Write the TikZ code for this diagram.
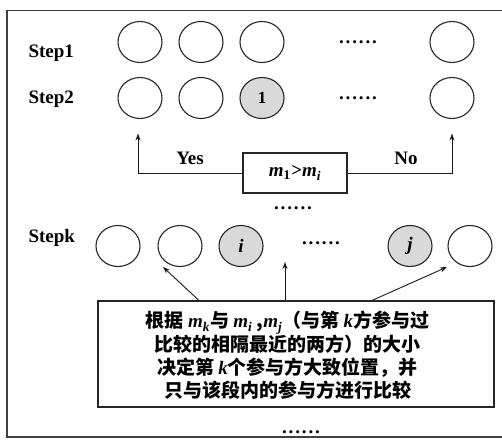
\documentclass[tikz,border=0pt]{standalone}
\usepackage{fontspec}
\setmainfont{Liberation Serif}
\newfontfamily\cjk{Noto Sans CJK SC}
\usetikzlibrary{arrows.meta,shapes.geometric}
\newcommand\sixdots{{\bfseries\fontsize{19}{19}\selectfont .\kern1.9pt.\kern1.9pt.\kern1.9pt.\kern1.9pt.\kern1.9pt.}}
\newcommand\lt[1]{{\rmfamily\bfseries\itshape #1}}
\begin{document}
\begin{tikzpicture}[x=1pt,y=-1pt,
  part/.style={ellipse,draw=black!85,line width=1.1pt,minimum width=44pt,minimum height=41pt,inner sep=0pt},
  hit/.style={part,fill=black!15},
  lbl/.style={font=\bfseries\fontsize{19}{20}\selectfont},
  dotsnode/.style={anchor=base,inner sep=0pt},
  boxnode/.style={draw=black!85,line width=1.1pt,inner sep=0pt},
  arr/.style={-{Stealth[length=7pt,width=5pt]},line width=0.9pt,draw=black!90}
]
\useasboundingbox (0,0) rectangle (502,439);
% frame
\draw[black!75,line width=1.1pt] (503,10.5) -- (7,10.5) -- (7,437) -- (503,437);

% labels
\node[lbl,anchor=west] (s1) at (25,53) {Step1};
\node[lbl,anchor=west] (s2) at (25,99) {Step2};
\node[lbl,anchor=west] (sk) at (25,238) {Stepk};

% row 1
\node[part] (a1) at (140,42) {};
\node[part] (a2) at (201,42) {};
\node[part] (a3) at (262,42) {};
\node[dotsnode] (ad) at (358,43.5) {\sixdots};
\node[part] (a5) at (452,42) {};

% row 2
\node[part] (b1) at (140,98) {};
\node[part] (b2) at (201,98) {};
\node[hit] (b3) at (262,98) {\bfseries\fontsize{17}{17}\selectfont 1};
\node[dotsnode] (bd) at (358,99.5) {\sixdots};
\node[part] (b5) at (452,98) {};

% comparison
\node[boxnode,minimum width=104pt,minimum height=40pt] (cmp) at (295,173)
  {\fontsize{19}{19}\selectfont\lt{m}\textsubscript{\bfseries 1}\kern0.5pt{\bfseries>}\lt{m}\textsubscript{\lt{i}}};
\node[lbl] (yes) at (190,158) {Yes};
\node[lbl] (no) at (406,158) {No};
\draw[arr] (cmp.west) -| ([xshift=-2pt,yshift=-14.5pt]b1.south);
\draw[arr] (cmp.east) -| ([yshift=-14.5pt]b5.south);
\node[dotsnode] (md) at (293,209.5) {\sixdots};

% row k
\node[part] (k1) at (118,246) {};
\node[part] (k2) at (180,246) {};
\node[hit] (k3) at (241,246) {\fontsize{19}{19}\selectfont\lt{i}};
\node[dotsnode] (kd) at (321,244.5) {\sixdots};
\node[hit] (k5) at (410,246) {\fontsize{19}{19}\selectfont\lt{j}};
\node[part] (k6) at (470,246) {};

% note box
\node[boxnode,minimum width=396pt,minimum height=106pt] (note) at (296,354) {};
\node[font=\cjk\bfseries\fontsize{19}{23.3}\selectfont,align=center,inner sep=0pt] (notetxt) at (287.5,355.5)
  {根据 \lt{m}\textsubscript{\lt{k}}与 \lt{m}\textsubscript{\lt{i}} ,\lt{m}\textsubscript{\lt{j}}（与第 \lt{k}方参与过\\
   比较的相隔最近的两方）的大小\\
   决定第 \lt{k}个参与方大致位置，并\\
   只与该段内的参与方进行比较};
\coordinate (t1) at (163,267);
\coordinate (t2) at (285,262);
\coordinate (t3) at (447,267);
\draw[arr] ([xshift=-97pt]note.north) -- (t1);
\draw[arr] ([xshift=-11pt]note.north) -- (t2);
\draw[arr] ([xshift=76pt]note.north) -- (t3);
\node[dotsnode] (bot) at (301,433.5) {\sixdots};
\end{tikzpicture}
\end{document}
